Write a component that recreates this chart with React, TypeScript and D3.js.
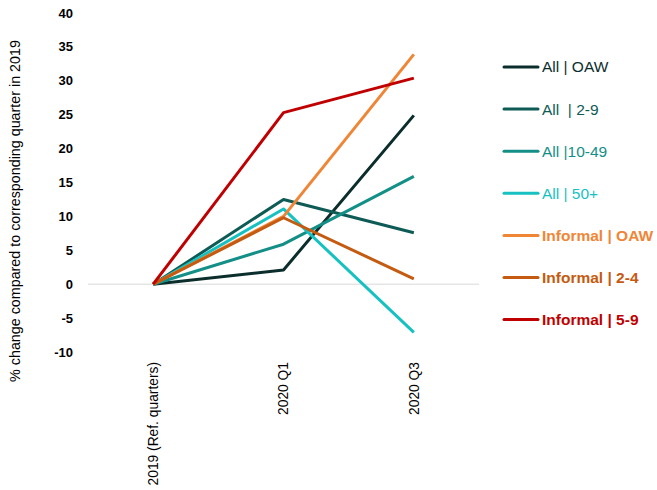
import React from "react";
import * as d3 from "d3";

const categories = ["2019 (Ref. quarters)", "2020 Q1", "2020 Q3"];
const seriesNames = ["All | OAW", "All  | 2-9", "All |10-49", "All | 50+", "Informal | OAW", "Informal | 2-4", "Informal | 5-9"];
const allOAW = [0, 2.1, 24.9];
const all2to9 = [0, 12.5, 7.6];
const all10to49 = [0, 5.9, 15.9];
const all50plus = [0, 11.1, -7.1];
const informalOAW = [0, 10.0, 33.9];
const informal2to4 = [0, 9.8, 0.8];
const informal5to9 = [0, 25.3, 30.4];
const yTicks = [40, 35, 30, 25, 20, 15, 10, 5, 0, -5, -10];
const colors = ["#0b2e2c", "#0e5b56", "#138f88", "#17c1c1", "#f08536", "#c55a11", "#c00000"];
const bold = [false, false, false, false, true, true, true];

const seriesValues = [allOAW, all2to9, all10to49, all50plus, informalOAW, informal2to4, informal5to9];

export default function App() {
  const W = 657, H = 490;
  const x = d3.scaleBand<string>().domain(categories).range([88, 479]);
  const y = d3.scaleLinear().domain([-10, 40]).range([352, 13]);
  const line = d3.line<number>()
    .x((_, i) => (x(categories[i]) as number) + x.bandwidth() / 2)
    .y((v) => y(v));
  const font = "'Liberation Sans', Arial, sans-serif";
  return (
    <svg width={W} height={H} style={{ position: "absolute", left: 0, top: 0 }} fontFamily={font}>
      <rect width={W} height={H} fill="#fff" />
      <line x1={88} x2={479} y1={y(0)} y2={y(0)} stroke="#d9d9d9" strokeWidth={1} />
      {yTicks.map((t) => (
        <text key={t} x={73} y={y(t)} dy="0.35em" textAnchor="end" fontSize={13} fontWeight="bold" fill="#000">{t}</text>
      ))}
      <text transform={`translate(20,${211}) rotate(-90)`} textAnchor="middle" fontSize={14.3} fill="#000">% change compared to corresponding quarter in 2019</text>
      {categories.map((c) => (
        <text key={c} transform={`translate(${(x(c) as number) + x.bandwidth() / 2},362) rotate(-90)`} textAnchor="end" dy="0.35em" fontSize={13.8} fill="#000">{c}</text>
      ))}
      {seriesValues.map((vals, i) => (
        <path key={i} d={line(vals) as string} fill="none" stroke={colors[i]} strokeWidth={3} strokeLinejoin="round" />
      ))}
      {seriesNames.map((n, i) => {
        const ly = 67 + i * 42.1;
        return (
          <g key={n}>
            <line x1={504} x2={538} y1={ly} y2={ly} stroke={colors[i]} strokeWidth={3} strokeLinecap="round" />
            <text x={542} y={ly} dy="0.35em" fontSize={15.5} fontWeight={bold[i] ? "bold" : "normal"} fill={colors[i]} style={{ whiteSpace: "pre" }}>{n}</text>
          </g>
        );
      })}
    </svg>
  );
}
